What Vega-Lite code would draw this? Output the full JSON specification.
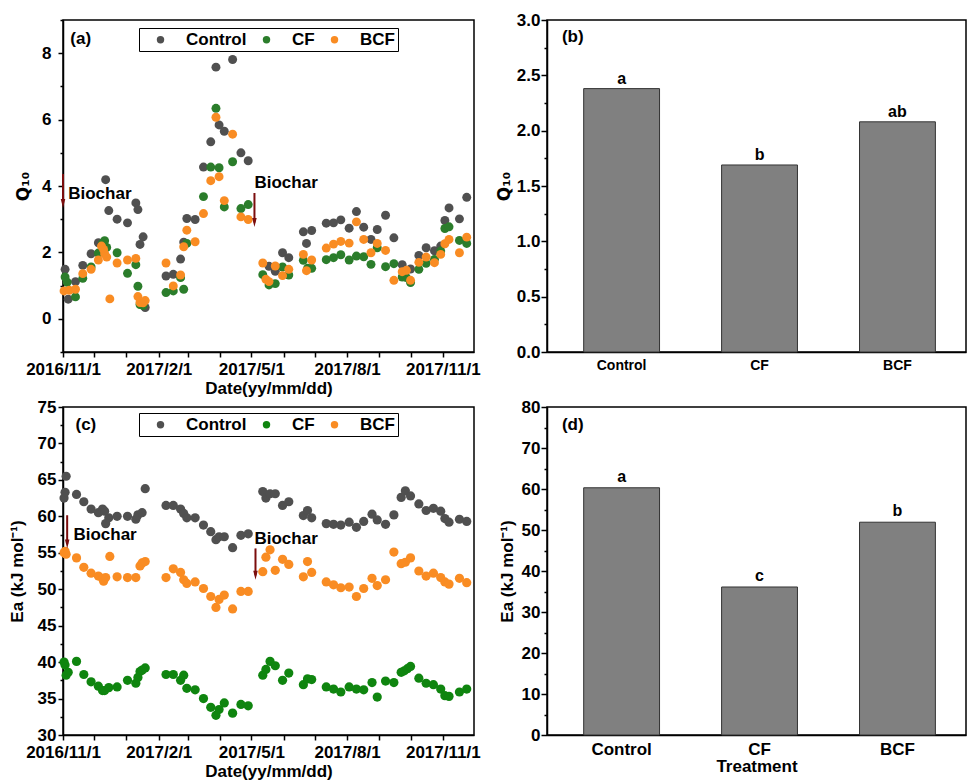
{
"$schema":"https://vega.github.io/schema/vega-lite/v6.json",
"padding":{"left":7,"top":10,"right":0,"bottom":0},
"config":{
 "font":"Liberation Sans",
 "view":{"stroke":"#000","strokeWidth":1.5},
 "axis":{"labelFont":"Liberation Sans","labelFontWeight":"bold","labelFontSize":17,"labelColor":"#000","titleFont":"Liberation Sans","titleFontWeight":"bold","titleFontSize":17,"titleColor":"#000","domainColor":"#000","domainWidth":1.5,"tickColor":"#000","tickWidth":1.5,"tickSize":5,"grid":false,"labelOverlap":false,"labelFlush":false},
 "text":{"font":"Liberation Sans","fontWeight":"bold","fontSize":17,"color":"#000"}
},
"datasets":{
 "q10":[
{"d":"2016-11-03","s":"Control","v":1.49},{"d":"2016-11-06","s":"Control","v":0.59},{"d":"2016-11-13","s":"Control","v":1.12},{"d":"2016-11-20","s":"Control","v":1.61},{"d":"2016-11-28","s":"Control","v":1.96},{"d":"2016-12-05","s":"Control","v":2.29},{"d":"2016-12-12","s":"Control","v":4.19},{"d":"2016-12-15","s":"Control","v":3.26},{"d":"2016-12-23","s":"Control","v":3.0},{"d":"2017-01-02","s":"Control","v":2.89},{"d":"2017-01-10","s":"Control","v":3.49},{"d":"2017-01-12","s":"Control","v":3.29},{"d":"2017-01-14","s":"Control","v":2.24},{"d":"2017-01-17","s":"Control","v":2.47},{"d":"2017-01-19","s":"Control","v":0.34},{"d":"2017-02-08","s":"Control","v":1.29},{"d":"2017-02-15","s":"Control","v":1.34},{"d":"2017-02-22","s":"Control","v":1.8},{"d":"2017-02-25","s":"Control","v":2.31},{"d":"2017-02-28","s":"Control","v":3.02},{"d":"2017-03-08","s":"Control","v":2.99},{"d":"2017-03-16","s":"Control","v":4.57},{"d":"2017-03-23","s":"Control","v":5.33},{"d":"2017-03-28","s":"Control","v":7.58},{"d":"2017-03-31","s":"Control","v":5.84},{"d":"2017-04-05","s":"Control","v":5.65},{"d":"2017-04-13","s":"Control","v":7.81},{"d":"2017-04-21","s":"Control","v":5.0},{"d":"2017-04-28","s":"Control","v":4.76},{"d":"2017-05-18","s":"Control","v":1.58},{"d":"2017-05-24","s":"Control","v":1.43},{"d":"2017-05-31","s":"Control","v":1.99},{"d":"2017-06-06","s":"Control","v":1.84},{"d":"2017-06-20","s":"Control","v":2.62},{"d":"2017-06-23","s":"Control","v":2.27},{"d":"2017-06-28","s":"Control","v":2.66},{"d":"2017-07-12","s":"Control","v":2.88},{"d":"2017-07-19","s":"Control","v":2.89},{"d":"2017-07-26","s":"Control","v":2.98},{"d":"2017-08-03","s":"Control","v":2.73},{"d":"2017-08-10","s":"Control","v":3.23},{"d":"2017-08-17","s":"Control","v":2.76},{"d":"2017-08-24","s":"Control","v":2.39},{"d":"2017-08-30","s":"Control","v":2.69},{"d":"2017-09-07","s":"Control","v":3.12},{"d":"2017-09-15","s":"Control","v":2.44},{"d":"2017-09-23","s":"Control","v":1.63},{"d":"2017-10-01","s":"Control","v":1.5},{"d":"2017-10-09","s":"Control","v":1.91},{"d":"2017-10-16","s":"Control","v":2.14},{"d":"2017-10-24","s":"Control","v":2.05},{"d":"2017-10-30","s":"Control","v":2.19},{"d":"2017-11-03","s":"Control","v":2.96},{"d":"2017-11-07","s":"Control","v":3.34},{"d":"2017-11-17","s":"Control","v":3.01},{"d":"2017-11-24","s":"Control","v":3.66},
{"d":"2016-11-03","s":"CF","v":1.26},{"d":"2016-11-05","s":"CF","v":1.1},{"d":"2016-11-13","s":"CF","v":0.66},{"d":"2016-11-20","s":"CF","v":1.22},{"d":"2016-11-28","s":"CF","v":1.56},{"d":"2016-12-05","s":"CF","v":1.98},{"d":"2016-12-09","s":"CF","v":2.28},{"d":"2016-12-11","s":"CF","v":2.35},{"d":"2016-12-13","s":"CF","v":2.15},{"d":"2016-12-23","s":"CF","v":1.99},{"d":"2017-01-02","s":"CF","v":1.37},{"d":"2017-01-10","s":"CF","v":1.63},{"d":"2017-01-12","s":"CF","v":0.98},{"d":"2017-01-14","s":"CF","v":0.43},{"d":"2017-01-17","s":"CF","v":0.4},{"d":"2017-02-08","s":"CF","v":0.79},{"d":"2017-02-15","s":"CF","v":0.84},{"d":"2017-02-22","s":"CF","v":1.24},{"d":"2017-02-25","s":"CF","v":0.89},{"d":"2017-02-28","s":"CF","v":2.27},{"d":"2017-03-16","s":"CF","v":3.68},{"d":"2017-03-23","s":"CF","v":4.57},{"d":"2017-03-28","s":"CF","v":6.34},{"d":"2017-03-31","s":"CF","v":4.55},{"d":"2017-04-05","s":"CF","v":3.37},{"d":"2017-04-13","s":"CF","v":4.73},{"d":"2017-04-21","s":"CF","v":3.32},{"d":"2017-04-28","s":"CF","v":3.44},{"d":"2017-05-12","s":"CF","v":1.33},{"d":"2017-05-18","s":"CF","v":1.02},{"d":"2017-05-24","s":"CF","v":1.06},{"d":"2017-05-31","s":"CF","v":1.56},{"d":"2017-06-06","s":"CF","v":1.32},{"d":"2017-06-20","s":"CF","v":1.76},{"d":"2017-06-24","s":"CF","v":1.52},{"d":"2017-06-28","s":"CF","v":1.52},{"d":"2017-07-12","s":"CF","v":1.78},{"d":"2017-07-19","s":"CF","v":1.84},{"d":"2017-07-26","s":"CF","v":1.93},{"d":"2017-08-03","s":"CF","v":1.77},{"d":"2017-08-10","s":"CF","v":1.89},{"d":"2017-08-17","s":"CF","v":1.87},{"d":"2017-08-24","s":"CF","v":1.64},{"d":"2017-08-30","s":"CF","v":2.14},{"d":"2017-09-07","s":"CF","v":1.57},{"d":"2017-09-15","s":"CF","v":1.66},{"d":"2017-09-23","s":"CF","v":1.26},{"d":"2017-09-27","s":"CF","v":1.24},{"d":"2017-10-01","s":"CF","v":1.09},{"d":"2017-10-09","s":"CF","v":1.49},{"d":"2017-10-16","s":"CF","v":1.67},{"d":"2017-10-24","s":"CF","v":1.79},{"d":"2017-10-30","s":"CF","v":2.04},{"d":"2017-11-03","s":"CF","v":2.72},{"d":"2017-11-07","s":"CF","v":2.77},{"d":"2017-11-17","s":"CF","v":2.36},{"d":"2017-11-24","s":"CF","v":2.27},
{"d":"2016-11-02","s":"BCF","v":0.84},{"d":"2016-11-07","s":"BCF","v":0.86},{"d":"2016-11-13","s":"BCF","v":0.89},{"d":"2016-11-20","s":"BCF","v":1.36},{"d":"2016-11-28","s":"BCF","v":1.49},{"d":"2016-12-05","s":"BCF","v":1.77},{"d":"2016-12-08","s":"BCF","v":2.19},{"d":"2016-12-10","s":"BCF","v":2.09},{"d":"2016-12-11","s":"BCF","v":1.96},{"d":"2016-12-13","s":"BCF","v":1.86},{"d":"2016-12-16","s":"BCF","v":0.6},{"d":"2016-12-23","s":"BCF","v":1.68},{"d":"2017-01-02","s":"BCF","v":1.77},{"d":"2017-01-10","s":"BCF","v":1.82},{"d":"2017-01-12","s":"BCF","v":0.67},{"d":"2017-01-14","s":"BCF","v":0.49},{"d":"2017-01-17","s":"BCF","v":0.48},{"d":"2017-01-19","s":"BCF","v":0.55},{"d":"2017-02-08","s":"BCF","v":1.68},{"d":"2017-02-15","s":"BCF","v":0.99},{"d":"2017-02-22","s":"BCF","v":1.32},{"d":"2017-02-25","s":"BCF","v":2.17},{"d":"2017-02-28","s":"BCF","v":2.67},{"d":"2017-03-08","s":"BCF","v":2.32},{"d":"2017-03-16","s":"BCF","v":3.17},{"d":"2017-03-23","s":"BCF","v":4.16},{"d":"2017-03-28","s":"BCF","v":6.07},{"d":"2017-03-31","s":"BCF","v":4.28},{"d":"2017-04-05","s":"BCF","v":3.56},{"d":"2017-04-13","s":"BCF","v":5.56},{"d":"2017-04-21","s":"BCF","v":3.07},{"d":"2017-04-28","s":"BCF","v":2.99},{"d":"2017-05-12","s":"BCF","v":1.68},{"d":"2017-05-15","s":"BCF","v":1.19},{"d":"2017-05-18","s":"BCF","v":1.12},{"d":"2017-05-24","s":"BCF","v":1.59},{"d":"2017-05-31","s":"BCF","v":1.3},{"d":"2017-06-06","s":"BCF","v":1.49},{"d":"2017-06-20","s":"BCF","v":1.94},{"d":"2017-06-23","s":"BCF","v":1.45},{"d":"2017-06-28","s":"BCF","v":1.77},{"d":"2017-07-12","s":"BCF","v":2.13},{"d":"2017-07-19","s":"BCF","v":2.25},{"d":"2017-07-26","s":"BCF","v":2.33},{"d":"2017-08-03","s":"BCF","v":2.28},{"d":"2017-08-10","s":"BCF","v":2.92},{"d":"2017-08-17","s":"BCF","v":2.39},{"d":"2017-08-24","s":"BCF","v":1.99},{"d":"2017-08-30","s":"BCF","v":2.27},{"d":"2017-09-07","s":"BCF","v":2.06},{"d":"2017-09-15","s":"BCF","v":1.16},{"d":"2017-09-23","s":"BCF","v":1.42},{"d":"2017-09-27","s":"BCF","v":1.46},{"d":"2017-10-01","s":"BCF","v":1.16},{"d":"2017-10-09","s":"BCF","v":1.7},{"d":"2017-10-16","s":"BCF","v":1.86},{"d":"2017-10-24","s":"BCF","v":1.69},{"d":"2017-10-30","s":"BCF","v":1.94},{"d":"2017-11-03","s":"BCF","v":2.26},{"d":"2017-11-07","s":"BCF","v":2.39},{"d":"2017-11-17","s":"BCF","v":1.99},{"d":"2017-11-24","s":"BCF","v":2.46}
 ],
 "ea":[
{"d":"2016-11-02","s":"Control","v":62.5},{"d":"2016-11-03","s":"Control","v":63.3},{"d":"2016-11-04","s":"Control","v":65.5},{"d":"2016-11-14","s":"Control","v":63.0},{"d":"2016-11-21","s":"Control","v":62.0},{"d":"2016-11-28","s":"Control","v":61.0},{"d":"2016-12-05","s":"Control","v":60.5},{"d":"2016-12-09","s":"Control","v":61.0},{"d":"2016-12-11","s":"Control","v":60.7},{"d":"2016-12-12","s":"Control","v":59.0},{"d":"2016-12-15","s":"Control","v":59.8},{"d":"2016-12-23","s":"Control","v":60.0},{"d":"2017-01-02","s":"Control","v":60.0},{"d":"2017-01-10","s":"Control","v":59.6},{"d":"2017-01-12","s":"Control","v":60.2},{"d":"2017-01-16","s":"Control","v":60.5},{"d":"2017-01-19","s":"Control","v":63.8},{"d":"2017-02-08","s":"Control","v":61.5},{"d":"2017-02-15","s":"Control","v":61.5},{"d":"2017-02-22","s":"Control","v":61.0},{"d":"2017-02-25","s":"Control","v":60.4},{"d":"2017-02-28","s":"Control","v":59.8},{"d":"2017-03-08","s":"Control","v":59.8},{"d":"2017-03-16","s":"Control","v":58.8},{"d":"2017-03-23","s":"Control","v":57.9},{"d":"2017-03-28","s":"Control","v":56.8},{"d":"2017-03-31","s":"Control","v":57.2},{"d":"2017-04-05","s":"Control","v":57.2},{"d":"2017-04-13","s":"Control","v":55.7},{"d":"2017-04-21","s":"Control","v":57.4},{"d":"2017-04-28","s":"Control","v":57.6},{"d":"2017-05-12","s":"Control","v":63.4},{"d":"2017-05-15","s":"Control","v":62.5},{"d":"2017-05-19","s":"Control","v":63.1},{"d":"2017-05-24","s":"Control","v":63.1},{"d":"2017-05-31","s":"Control","v":61.5},{"d":"2017-06-06","s":"Control","v":62.0},{"d":"2017-06-20","s":"Control","v":60.1},{"d":"2017-06-24","s":"Control","v":60.8},{"d":"2017-06-28","s":"Control","v":59.8},{"d":"2017-07-12","s":"Control","v":59.0},{"d":"2017-07-19","s":"Control","v":58.9},{"d":"2017-07-26","s":"Control","v":58.8},{"d":"2017-08-03","s":"Control","v":59.2},{"d":"2017-08-10","s":"Control","v":58.5},{"d":"2017-08-17","s":"Control","v":59.3},{"d":"2017-08-25","s":"Control","v":60.3},{"d":"2017-08-30","s":"Control","v":59.5},{"d":"2017-09-07","s":"Control","v":58.9},{"d":"2017-09-15","s":"Control","v":60.2},{"d":"2017-09-22","s":"Control","v":62.6},{"d":"2017-09-26","s":"Control","v":63.5},{"d":"2017-10-01","s":"Control","v":62.8},{"d":"2017-10-09","s":"Control","v":61.7},{"d":"2017-10-16","s":"Control","v":60.8},{"d":"2017-10-23","s":"Control","v":61.1},{"d":"2017-10-30","s":"Control","v":60.7},{"d":"2017-11-03","s":"Control","v":59.7},{"d":"2017-11-07","s":"Control","v":59.2},{"d":"2017-11-17","s":"Control","v":59.6},{"d":"2017-11-24","s":"Control","v":59.3},
{"d":"2016-11-02","s":"CF","v":40.0},{"d":"2016-11-03","s":"CF","v":39.6},{"d":"2016-11-04","s":"CF","v":38.2},{"d":"2016-11-06","s":"CF","v":38.6},{"d":"2016-11-14","s":"CF","v":40.1},{"d":"2016-11-21","s":"CF","v":38.3},{"d":"2016-11-28","s":"CF","v":37.3},{"d":"2016-12-05","s":"CF","v":36.7},{"d":"2016-12-09","s":"CF","v":36.1},{"d":"2016-12-11","s":"CF","v":36.1},{"d":"2016-12-15","s":"CF","v":36.5},{"d":"2016-12-23","s":"CF","v":36.6},{"d":"2017-01-02","s":"CF","v":37.5},{"d":"2017-01-10","s":"CF","v":37.1},{"d":"2017-01-12","s":"CF","v":37.9},{"d":"2017-01-14","s":"CF","v":38.7},{"d":"2017-01-16","s":"CF","v":38.9},{"d":"2017-01-19","s":"CF","v":39.2},{"d":"2017-02-08","s":"CF","v":38.3},{"d":"2017-02-15","s":"CF","v":38.3},{"d":"2017-02-22","s":"CF","v":37.5},{"d":"2017-02-25","s":"CF","v":38.2},{"d":"2017-02-28","s":"CF","v":36.4},{"d":"2017-03-08","s":"CF","v":36.2},{"d":"2017-03-16","s":"CF","v":35.0},{"d":"2017-03-23","s":"CF","v":33.8},{"d":"2017-03-28","s":"CF","v":32.7},{"d":"2017-03-31","s":"CF","v":33.5},{"d":"2017-04-05","s":"CF","v":34.4},{"d":"2017-04-13","s":"CF","v":33.0},{"d":"2017-04-21","s":"CF","v":34.2},{"d":"2017-04-28","s":"CF","v":34.0},{"d":"2017-05-12","s":"CF","v":38.2},{"d":"2017-05-15","s":"CF","v":39.0},{"d":"2017-05-19","s":"CF","v":40.1},{"d":"2017-05-24","s":"CF","v":39.5},{"d":"2017-05-31","s":"CF","v":37.5},{"d":"2017-06-06","s":"CF","v":38.5},{"d":"2017-06-20","s":"CF","v":36.9},{"d":"2017-06-24","s":"CF","v":37.7},{"d":"2017-06-28","s":"CF","v":37.6},{"d":"2017-07-12","s":"CF","v":36.6},{"d":"2017-07-19","s":"CF","v":36.3},{"d":"2017-07-26","s":"CF","v":35.9},{"d":"2017-08-03","s":"CF","v":36.6},{"d":"2017-08-10","s":"CF","v":36.3},{"d":"2017-08-17","s":"CF","v":36.2},{"d":"2017-08-25","s":"CF","v":37.2},{"d":"2017-08-30","s":"CF","v":35.2},{"d":"2017-09-07","s":"CF","v":37.4},{"d":"2017-09-15","s":"CF","v":37.2},{"d":"2017-09-22","s":"CF","v":38.6},{"d":"2017-09-25","s":"CF","v":38.8},{"d":"2017-09-28","s":"CF","v":39.1},{"d":"2017-10-01","s":"CF","v":39.4},{"d":"2017-10-09","s":"CF","v":37.8},{"d":"2017-10-16","s":"CF","v":37.1},{"d":"2017-10-23","s":"CF","v":36.9},{"d":"2017-10-30","s":"CF","v":36.3},{"d":"2017-11-03","s":"CF","v":35.4},{"d":"2017-11-07","s":"CF","v":35.3},{"d":"2017-11-17","s":"CF","v":35.9},{"d":"2017-11-24","s":"CF","v":36.3},
{"d":"2016-11-02","s":"BCF","v":55.0},{"d":"2016-11-03","s":"BCF","v":55.2},{"d":"2016-11-04","s":"BCF","v":54.8},{"d":"2016-11-14","s":"BCF","v":54.3},{"d":"2016-11-21","s":"BCF","v":53.0},{"d":"2016-11-28","s":"BCF","v":52.2},{"d":"2016-12-05","s":"BCF","v":51.8},{"d":"2016-12-09","s":"BCF","v":51.5},{"d":"2016-12-10","s":"BCF","v":51.1},{"d":"2016-12-12","s":"BCF","v":51.6},{"d":"2016-12-16","s":"BCF","v":54.5},{"d":"2016-12-23","s":"BCF","v":51.7},{"d":"2017-01-02","s":"BCF","v":51.6},{"d":"2017-01-10","s":"BCF","v":51.6},{"d":"2017-01-14","s":"BCF","v":53.2},{"d":"2017-01-16","s":"BCF","v":53.6},{"d":"2017-01-19","s":"BCF","v":53.8},{"d":"2017-02-08","s":"BCF","v":51.6},{"d":"2017-02-15","s":"BCF","v":52.8},{"d":"2017-02-22","s":"BCF","v":52.3},{"d":"2017-02-25","s":"BCF","v":51.3},{"d":"2017-02-28","s":"BCF","v":50.8},{"d":"2017-03-08","s":"BCF","v":51.0},{"d":"2017-03-16","s":"BCF","v":50.1},{"d":"2017-03-23","s":"BCF","v":49.0},{"d":"2017-03-28","s":"BCF","v":47.5},{"d":"2017-03-31","s":"BCF","v":48.6},{"d":"2017-04-05","s":"BCF","v":49.2},{"d":"2017-04-13","s":"BCF","v":47.3},{"d":"2017-04-21","s":"BCF","v":49.7},{"d":"2017-04-28","s":"BCF","v":49.7},{"d":"2017-05-12","s":"BCF","v":52.4},{"d":"2017-05-15","s":"BCF","v":54.4},{"d":"2017-05-19","s":"BCF","v":55.4},{"d":"2017-05-24","s":"BCF","v":52.6},{"d":"2017-05-31","s":"BCF","v":54.1},{"d":"2017-06-06","s":"BCF","v":53.4},{"d":"2017-06-20","s":"BCF","v":51.7},{"d":"2017-06-24","s":"BCF","v":53.8},{"d":"2017-06-28","s":"BCF","v":52.3},{"d":"2017-07-12","s":"BCF","v":51.0},{"d":"2017-07-19","s":"BCF","v":50.6},{"d":"2017-07-26","s":"BCF","v":50.2},{"d":"2017-08-03","s":"BCF","v":50.3},{"d":"2017-08-10","s":"BCF","v":49.0},{"d":"2017-08-17","s":"BCF","v":50.1},{"d":"2017-08-25","s":"BCF","v":51.5},{"d":"2017-08-30","s":"BCF","v":50.5},{"d":"2017-09-07","s":"BCF","v":51.3},{"d":"2017-09-15","s":"BCF","v":55.1},{"d":"2017-09-22","s":"BCF","v":53.5},{"d":"2017-09-26","s":"BCF","v":53.7},{"d":"2017-10-01","s":"BCF","v":54.3},{"d":"2017-10-09","s":"BCF","v":52.5},{"d":"2017-10-16","s":"BCF","v":51.8},{"d":"2017-10-23","s":"BCF","v":52.2},{"d":"2017-10-30","s":"BCF","v":51.6},{"d":"2017-11-03","s":"BCF","v":51.0},{"d":"2017-11-07","s":"BCF","v":50.7},{"d":"2017-11-17","s":"BCF","v":51.5},{"d":"2017-11-24","s":"BCF","v":50.9}
 ],
 "arrows":[
  {"p":"a","d":"2016-11-01","v":4.36,"v2":3.47},
  {"p":"a","d":"2017-05-04","v":3.79,"v2":2.9},
  {"p":"c","d":"2016-11-05","v":60.15,"v2":56.2},
  {"p":"c","d":"2017-05-05","v":55.6,"v2":51.9}
 ],
 "notes":[
  {"p":"a","d":"2016-11-06","v":3.76,"label":"Biochar"},
  {"p":"a","d":"2017-05-04","v":4.08,"label":"Biochar"},
  {"p":"a","d":"2016-11-08","v":8.44,"label":"(a)"},
  {"p":"c","d":"2016-11-11","v":57.5,"label":"Biochar"},
  {"p":"c","d":"2017-05-04","v":56.9,"label":"Biochar"},
  {"p":"c","d":"2016-11-13","v":72.5,"label":"(c)"}
 ],
 "bars":[
  {"p":"b","t":"Control","v":2.38,"sig":"a"},{"p":"b","t":"CF","v":1.69,"sig":"b"},{"p":"b","t":"BCF","v":2.08,"sig":"ab"},
  {"p":"d","t":"Control","v":60.3,"sig":"a"},{"p":"d","t":"CF","v":36.1,"sig":"c"},{"p":"d","t":"BCF","v":51.9,"sig":"b"}
 ],
 "barnotes":[
  {"p":"b","t":"Control","v":2.85,"label":"(b)"},
  {"p":"d","t":"Control","v":75.7,"label":"(d)"}
 ]
},
"resolve":{"scale":{"color":"independent"},"legend":{"color":"independent"}},
"spacing":0,
"vconcat":[
 {"spacing":13,
  "resolve":{"scale":{"color":"independent"},"legend":{"color":"independent"}},
  "hconcat":[
  {"width":411,"height":332,
   "encoding":{
    "x":{"field":"d","type":"temporal","title":"Date(yy/mm/dd)",
     "scale":{"type":"utc","domain":[{"year":2016,"month":11,"date":1,"utc":true},{"year":2017,"month":12,"date":1,"utc":true}]},
     "axis":{"values":[{"year":2016,"month":11,"date":1,"utc":true},{"year":2016,"month":12,"date":1,"utc":true},{"year":2017,"month":1,"date":1,"utc":true},{"year":2017,"month":2,"date":1,"utc":true},{"year":2017,"month":3,"date":1,"utc":true},{"year":2017,"month":4,"date":1,"utc":true},{"year":2017,"month":5,"date":1,"utc":true},{"year":2017,"month":6,"date":1,"utc":true},{"year":2017,"month":7,"date":1,"utc":true},{"year":2017,"month":8,"date":1,"utc":true},{"year":2017,"month":9,"date":1,"utc":true},{"year":2017,"month":10,"date":1,"utc":true},{"year":2017,"month":11,"date":1,"utc":true}],
      "labelExpr":"utcmonth(datum.value) % 3 === 1 ? utcFormat(datum.value, '%Y/%-m/%-d') : ''","labelPadding":4,"titlePadding":3}},
    "y":{"field":"v","type":"quantitative","title":"Q₁₀",
     "scale":{"domain":[-1,9],"nice":false,"zero":false},
     "axis":{"values":[-1,0,1,2,3,4,5,6,7,8,9],"labelExpr":"datum.value % 2 === 0 ? datum.label : ''","tickSize":{"condition":{"test":"datum.value % 2 === 0","value":5},"value":3},"labelPadding":7,"titlePadding":9,"titleFont":"DejaVu Sans"}}
   },
   "layer":[
    {"data":{"name":"q10"},"mark":{"type":"point","filled":true,"size":80,"opacity":1},
     "encoding":{"color":{"field":"s","type":"nominal","scale":{"domain":["Control","CF","BCF"],"range":["#505050","#2b7d2b","#f98c23"]},
      "legend":{"orient":"none","legendX":76,"legendY":8,"direction":"horizontal","title":null,"strokeColor":"#000","fillColor":"#fff","padding":3,"symbolType":"circle","symbolSize":55,"symbolOffset":10,"labelOffset":17,"columnPadding":1,"labelFont":"Liberation Sans","labelFontSize":17,"labelFontWeight":"bold","labelColor":"#000"}}}},
    {"data":{"name":"arrows"},"transform":[{"filter":"datum.p === 'a'"}],"mark":{"type":"rule","color":"#7b0d0d","strokeWidth":2},"encoding":{"y2":{"field":"v2"}}},
    {"data":{"name":"arrows"},"transform":[{"filter":"datum.p === 'a'"}],"mark":{"type":"point","shape":"M-0.5,-1L0.5,-1L0,1Z","filled":true,"size":81,"color":"#7b0d0d","opacity":1},"encoding":{"y":{"field":"v2","type":"quantitative","title":"Q₁₀"}}},
    {"data":{"name":"notes"},"transform":[{"filter":"datum.p === 'a'"}],"mark":{"type":"text","align":"left","baseline":"middle"},"encoding":{"text":{"field":"label"}}}
   ]},
  {"width":419,"height":332,
   "data":{"name":"bars"},"transform":[{"filter":"datum.p === 'b'"}],
   "encoding":{
    "x":{"field":"t","type":"nominal","sort":["Control","CF","BCF"],"title":null,"scale":{"paddingInner":0.45,"paddingOuter":0.244,"align":0.545},"axis":{"labelAngle":0,"ticks":false,"labelFontSize":14,"labelPadding":6}},
    "y":{"field":"v","type":"quantitative","title":"Q₁₀","scale":{"domain":[0,3],"nice":false},
     "axis":{"values":[0,0.25,0.5,0.75,1,1.25,1.5,1.75,2,2.25,2.5,2.75,3],"format":".1f","labelExpr":"(datum.value*4) % 2 === 0 ? datum.label : ''","tickSize":{"condition":{"test":"(datum.value*4) % 2 === 0","value":6},"value":3},"labelPadding":1,"titlePadding":3,"titleFont":"DejaVu Sans"}}
   },
   "layer":[
    {"mark":{"type":"bar","color":"#808080","stroke":"#333","strokeWidth":1}},
    {"mark":{"type":"text","baseline":"alphabetic","dy":-5,"fontSize":16},"encoding":{"text":{"field":"sig"}}},
    {"data":{"name":"barnotes"},"transform":[{"filter":"datum.p === 'b'"}],"mark":{"type":"text","align":"right","baseline":"middle"},"encoding":{"x":{"field":"t","type":"nominal","sort":["Control","CF","BCF"],"bandPosition":0},"text":{"field":"label"}}}
   ]}
 ]},
 {"spacing":16,
  "resolve":{"scale":{"color":"independent"},"legend":{"color":"independent"}},
  "hconcat":[
  {"width":411,"height":328,
   "encoding":{
    "x":{"field":"d","type":"temporal","title":"Date(yy/mm/dd)",
     "scale":{"type":"utc","domain":[{"year":2016,"month":11,"date":1,"utc":true},{"year":2017,"month":12,"date":1,"utc":true}]},
     "axis":{"values":[{"year":2016,"month":11,"date":1,"utc":true},{"year":2016,"month":12,"date":1,"utc":true},{"year":2017,"month":1,"date":1,"utc":true},{"year":2017,"month":2,"date":1,"utc":true},{"year":2017,"month":3,"date":1,"utc":true},{"year":2017,"month":4,"date":1,"utc":true},{"year":2017,"month":5,"date":1,"utc":true},{"year":2017,"month":6,"date":1,"utc":true},{"year":2017,"month":7,"date":1,"utc":true},{"year":2017,"month":8,"date":1,"utc":true},{"year":2017,"month":9,"date":1,"utc":true},{"year":2017,"month":10,"date":1,"utc":true},{"year":2017,"month":11,"date":1,"utc":true}],
      "labelExpr":"utcmonth(datum.value) % 3 === 1 ? utcFormat(datum.value, '%Y/%-m/%-d') : ''","labelPadding":4,"titlePadding":3}},
    "y":{"field":"v","type":"quantitative","title":"Ea (kJ mol⁻¹)",
     "scale":{"domain":[30,75],"nice":false,"zero":false},
     "axis":{"values":[30,32.5,35,37.5,40,42.5,45,47.5,50,52.5,55,57.5,60,62.5,65,67.5,70,72.5,75],"labelExpr":"datum.value % 5 === 0 ? datum.label : ''","tickSize":{"condition":{"test":"datum.value % 5 === 0","value":5},"value":3},"labelPadding":2,"titlePadding":11}}
   },
   "layer":[
    {"data":{"name":"ea"},"mark":{"type":"point","filled":true,"size":85,"opacity":1},
     "encoding":{"color":{"field":"s","type":"nominal","scale":{"domain":["Control","CF","BCF"],"range":["#505050","#0f850f","#f98c23"]},
      "legend":{"orient":"none","legendX":76,"legendY":6,"direction":"horizontal","title":null,"strokeColor":"#000","fillColor":"#fff","padding":3,"symbolType":"circle","symbolSize":55,"symbolOffset":10,"labelOffset":17,"columnPadding":1,"labelFont":"Liberation Sans","labelFontSize":17,"labelFontWeight":"bold","labelColor":"#000"}}}},
    {"data":{"name":"arrows"},"transform":[{"filter":"datum.p === 'c'"}],"mark":{"type":"rule","color":"#7b0d0d","strokeWidth":2},"encoding":{"y2":{"field":"v2"}}},
    {"data":{"name":"arrows"},"transform":[{"filter":"datum.p === 'c'"}],"mark":{"type":"point","shape":"M-0.5,-1L0.5,-1L0,1Z","filled":true,"size":81,"color":"#7b0d0d","opacity":1},"encoding":{"y":{"field":"v2","type":"quantitative","title":"Ea (kJ mol⁻¹)"}}},
    {"data":{"name":"notes"},"transform":[{"filter":"datum.p === 'c'"}],"mark":{"type":"text","align":"left","baseline":"middle"},"encoding":{"text":{"field":"label"}}}
   ]},
  {"width":419,"height":328,
   "data":{"name":"bars"},"transform":[{"filter":"datum.p === 'd'"}],
   "encoding":{
    "x":{"field":"t","type":"nominal","sort":["Control","CF","BCF"],"title":"Treatment","scale":{"paddingInner":0.45,"paddingOuter":0.244,"align":0.545},"axis":{"labelAngle":0,"ticks":false,"labelPadding":6,"titlePadding":1}},
    "y":{"field":"v","type":"quantitative","title":"Ea (kJ mol⁻¹)","scale":{"domain":[0,80],"nice":false},
     "axis":{"values":[0,5,10,15,20,25,30,35,40,45,50,55,60,65,70,75,80],"labelExpr":"datum.value % 10 === 0 ? datum.label : ''","tickSize":{"condition":{"test":"datum.value % 10 === 0","value":6},"value":3},"labelPadding":1,"titlePadding":5}}
   },
   "layer":[
    {"mark":{"type":"bar","color":"#808080","stroke":"#333","strokeWidth":1}},
    {"mark":{"type":"text","baseline":"alphabetic","dy":-6,"fontSize":16},"encoding":{"text":{"field":"sig"}}},
    {"data":{"name":"barnotes"},"transform":[{"filter":"datum.p === 'd'"}],"mark":{"type":"text","align":"right","baseline":"middle"},"encoding":{"x":{"field":"t","type":"nominal","sort":["Control","CF","BCF"],"bandPosition":0},"text":{"field":"label"}}}
   ]}
 ]}
]
}
